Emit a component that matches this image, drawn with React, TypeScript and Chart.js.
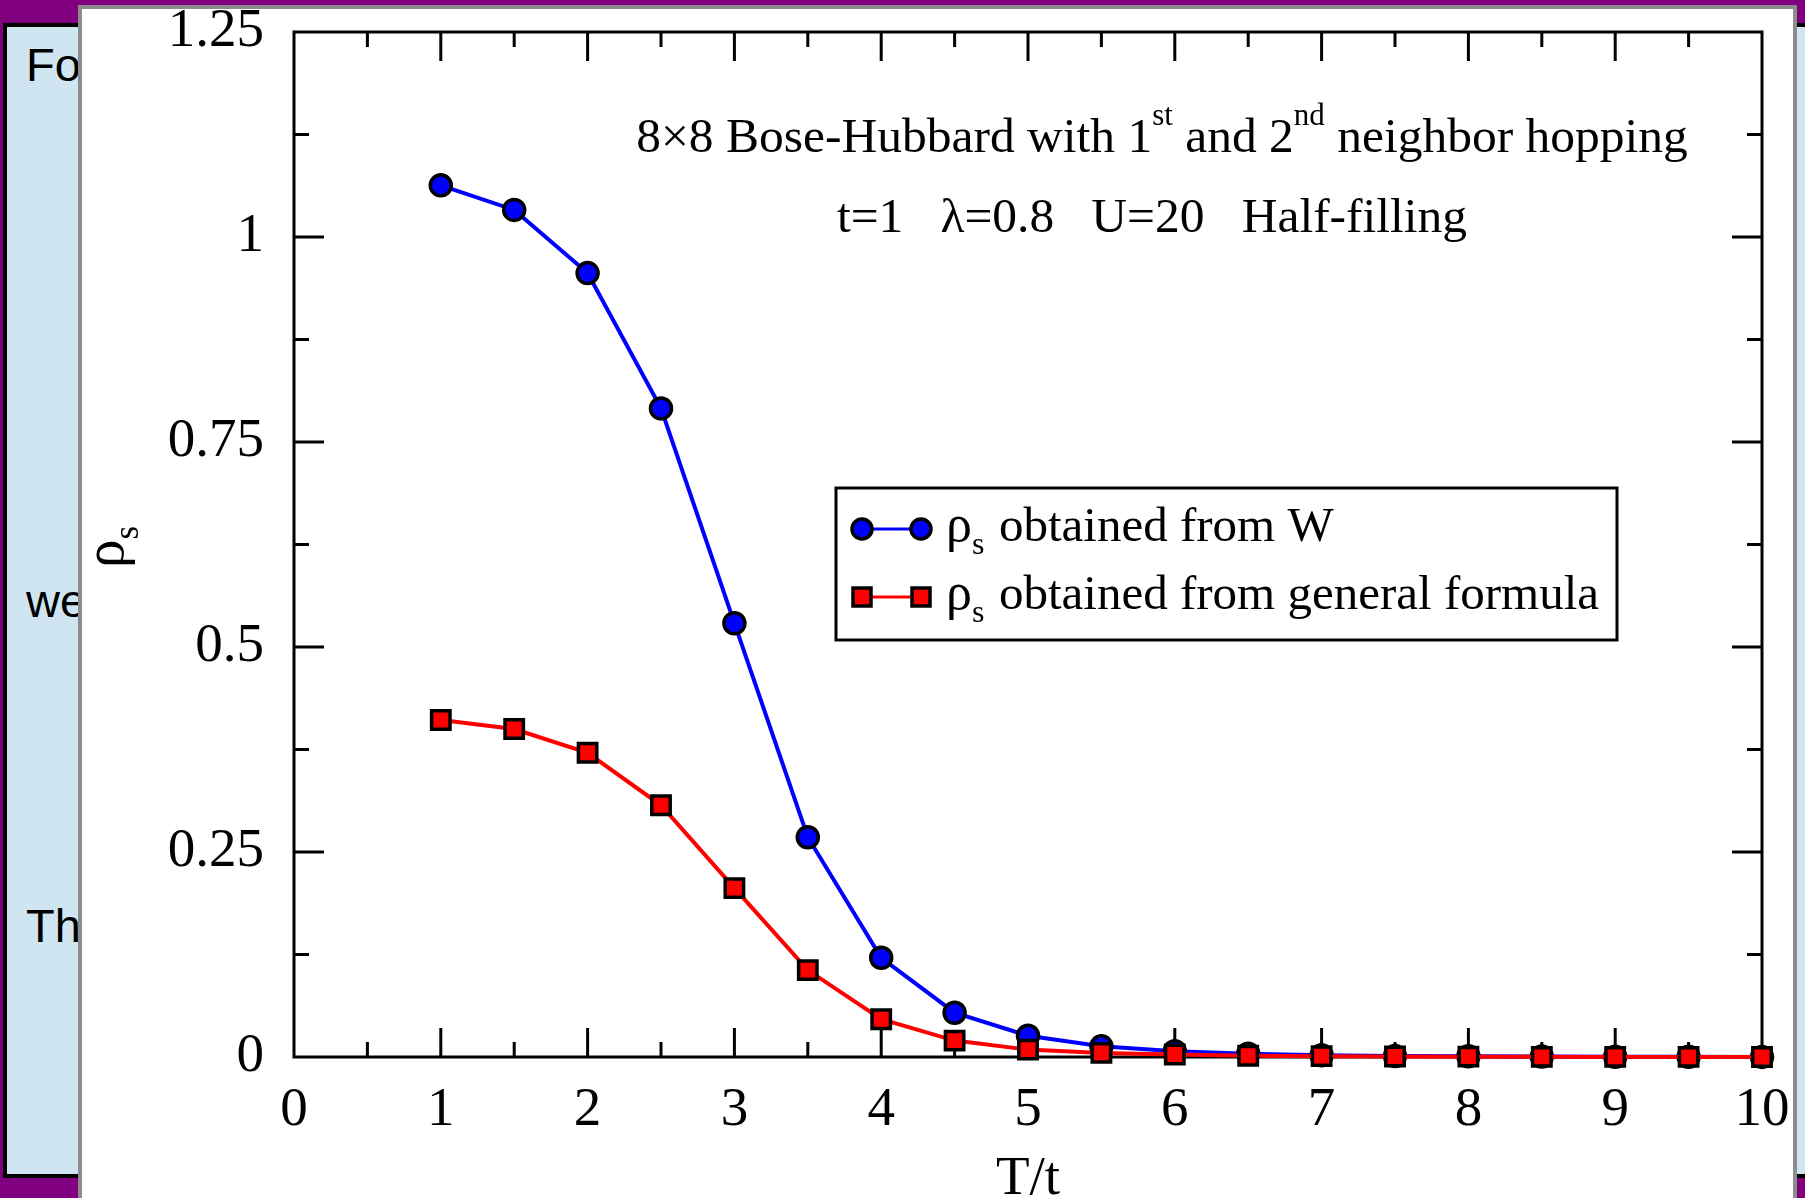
import React, { useEffect, useRef } from 'react';
import { Chart, registerables } from 'chart.js';

Chart.register(...registerables);

// ---------- data ----------
const temperatures = [1, 1.5, 2, 2.5, 3, 3.5, 4, 4.5, 5, 5.5, 6, 6.5, 7, 7.5, 8, 8.5, 9, 9.5, 10];
const rhoFromW = [1.063, 1.033, 0.956, 0.791, 0.529, 0.268, 0.121, 0.054, 0.026, 0.013, 0.007, 0.004, 0.002, 0.0012, 0.0008, 0.0005, 0.0003, 0.0002, 0.0001];
const rhoFromFormula = [0.411, 0.4, 0.371, 0.307, 0.206, 0.106, 0.046, 0.02, 0.009, 0.005, 0.003, 0.0015, 0.001, 0.0006, 0.0004, 0.0002, 0.0001, 0.0001, 0.0];
const xTickLabels = ['0', '1', '2', '3', '4', '5', '6', '7', '8', '9', '10'];
const yTickLabels = ['0', '0.25', '0.5', '0.75', '1', '1.25'];
const seriesNames = ['obtained from W', 'obtained from general formula'];
const seriesColors = ['#0000ff', '#ff0000'];
const rhoSymbol = 'ρ';
const rhoSub = 's';
const xAxisTitle = 'T/t';
const titleParts: [string, boolean][] = [
  ['8×8 Bose-Hubbard with 1', false],
  ['st', true],
  [' and 2', false],
  ['nd', true],
  [' neighbor hopping', false],
];
const subtitleParts = ['t=1', 'λ=0.8', 'U=20', 'Half-filling'];
const slideFragments = ['Fo', 'we', 'Th'];

const SERIF = "'Liberation Serif', 'Times New Roman', Times, serif";
const f = (px: number) => `${px}px ${SERIF}`;

const framePlugin = {
  id: 'frameTicks',
  beforeDatasetsDraw(chart: any) {
    const { ctx, chartArea: a, scales } = chart;
    const xs = scales.x;
    const ys = scales.y;
    ctx.save();
    ctx.strokeStyle = '#000';
    ctx.lineWidth = 3;
    ctx.lineCap = 'butt';
    const seg = (x1: number, y1: number, x2: number, y2: number) => {
      ctx.beginPath();
      ctx.moveTo(x1, y1);
      ctx.lineTo(x2, y2);
      ctx.stroke();
    };
    for (let i = 1; i < 20; i++) {
      const v = i * 0.5;
      const px = xs.getPixelForValue(v);
      const len = i % 2 === 0 ? 29 : 15;
      seg(px, a.bottom, px, a.bottom - len);
      seg(px, a.top, px, a.top + len);
    }
    for (let i = 1; i < 10; i++) {
      const v = i * 0.125;
      const py = ys.getPixelForValue(v);
      const len = i % 2 === 0 ? 30 : 15;
      seg(a.left, py, a.left + len, py);
      seg(a.right, py, a.right - len, py);
    }
    ctx.strokeRect(a.left, a.top, a.right - a.left, a.bottom - a.top);
    ctx.restore();
  },
};

const textPlugin = {
  id: 'texts',
  afterDatasetsDraw(chart: any) {
    const { ctx, chartArea: a } = chart;
    ctx.save();
    ctx.fillStyle = '#000';
    ctx.textBaseline = 'alphabetic';
    ctx.textAlign = 'left';

    // title line 1
    const mainSize = 49.5;
    const supSize = 31;
    let total = 0;
    for (const [t, sup] of titleParts) {
      ctx.font = f(sup ? supSize : mainSize);
      total += ctx.measureText(t).width;
    }
    let cx = 1162 - total / 2;
    for (const [t, sup] of titleParts) {
      ctx.font = f(sup ? supSize : mainSize);
      ctx.fillText(t, cx, sup ? 152 - 27 : 152);
      cx += ctx.measureText(t).width;
    }
    // title line 2
    ctx.font = f(mainSize);
    const gap = ctx.measureText(' ').width * 3;
    let tot2 = 0;
    subtitleParts.forEach((t, i) => {
      tot2 += ctx.measureText(t).width + (i < subtitleParts.length - 1 ? gap : 0);
    });
    cx = 1152 - tot2 / 2;
    for (const t of subtitleParts) {
      ctx.fillText(t, cx, 232);
      cx += ctx.measureText(t).width + gap;
    }

    // legend
    ctx.lineWidth = 3;
    ctx.strokeStyle = '#000';
    ctx.strokeRect(836, 488, 781, 152);
    const rows = [529, 597];
    rows.forEach((ry, i) => {
      ctx.strokeStyle = seriesColors[i];
      ctx.lineWidth = 3;
      ctx.beginPath();
      ctx.moveTo(862, ry);
      ctx.lineTo(921, ry);
      ctx.stroke();
      ctx.fillStyle = seriesColors[i];
      ctx.strokeStyle = '#000';
      ctx.lineWidth = 3.5;
      [862, 921].forEach((mx) => {
        ctx.beginPath();
        if (i === 0) ctx.arc(mx, ry, 10, 0, Math.PI * 2);
        else ctx.rect(mx - 9, ry - 9, 18, 18);
        ctx.fill();
        ctx.stroke();
      });
      ctx.fillStyle = '#000';
      const by = ry + 12;
      ctx.font = f(52);
      ctx.fillText(rhoSymbol, 946, by);
      const rw = ctx.measureText(rhoSymbol).width;
      ctx.font = f(32);
      ctx.fillText(rhoSub, 946 + rw, by + 13);
      ctx.font = f(49);
      ctx.fillText(seriesNames[i], 999, by);
    });

    // x-axis title
    ctx.font = f(55);
    ctx.textAlign = 'center';
    ctx.fillText(xAxisTitle, (a.left + a.right) / 2, 1194);

    // y-axis title (rotated)
    ctx.textAlign = 'left';
    ctx.translate(123, 568);
    ctx.rotate(-Math.PI / 2);
    ctx.font = f(57);
    ctx.fillText(rhoSymbol, 0, 0);
    const w = ctx.measureText(rhoSymbol).width;
    ctx.font = f(35);
    ctx.fillText(rhoSub, w, 15);
    ctx.restore();
  },
};

const zeroPadding = (s: any) => {
  s.paddingTop = 0;
  s.paddingBottom = 0;
  s.paddingLeft = 0;
  s.paddingRight = 0;
};

export default function App() {
  const ref = useRef<HTMLCanvasElement | null>(null);

  useEffect(() => {
    if (!ref.current) return;
    const chart = new Chart(ref.current, {
      type: 'line',
      data: {
        datasets: [
          {
            label: seriesNames[1],
            data: temperatures.map((t, i) => ({ x: t, y: rhoFromFormula[i] })),
            borderColor: seriesColors[1],
            borderWidth: 4,
            pointStyle: 'rect',
            pointRadius: 13,
            pointBackgroundColor: seriesColors[1],
            pointBorderColor: '#000',
            pointBorderWidth: 3.5,
            tension: 0,
            clip: false as any,
            order: 0,
          },
          {
            label: seriesNames[0],
            data: temperatures.map((t, i) => ({ x: t, y: rhoFromW[i] })),
            borderColor: seriesColors[0],
            borderWidth: 4,
            pointStyle: 'circle',
            pointRadius: 10.5,
            pointBackgroundColor: seriesColors[0],
            pointBorderColor: '#000',
            pointBorderWidth: 3.5,
            tension: 0,
            clip: false as any,
            order: 1,
          },
        ],
      },
      options: {
        animation: false,
        responsive: false,
        devicePixelRatio: 1,
        events: [],
        layout: { padding: { left: 0, top: 32, right: 43, bottom: 0 } },
        plugins: { legend: { display: false }, tooltip: { enabled: false } },
        scales: {
          x: {
            type: 'linear',
            min: 0,
            max: 10,
            grid: { display: false, drawTicks: false },
            border: { display: false },
            ticks: {
              stepSize: 1,
              autoSkip: false,
              maxRotation: 0,
              padding: 21,
              color: '#000',
              font: { family: SERIF, size: 55 },
              callback: (_v: any, i: number) => xTickLabels[i],
            },
            afterFit: (s: any) => {
              s.height = 141;
              zeroPadding(s);
            },
          },
          y: {
            type: 'linear',
            min: 0,
            max: 1.25,
            grid: { display: false, drawTicks: false },
            border: { display: false },
            ticks: {
              stepSize: 0.25,
              autoSkip: false,
              padding: 30,
              color: '#000',
              font: { family: SERIF, size: 55 },
              callback: (_v: any, i: number) => yTickLabels[i],
            },
            afterFit: (s: any) => {
              s.width = 294;
              zeroPadding(s);
            },
          },
        },
      } as any,
      plugins: [framePlugin, textPlugin],
    });
    return () => chart.destroy();
  }, []);

  const sans = "'Liberation Sans', Arial, Helvetica, sans-serif";
  const fragTops = [41, 577, 902];

  return (
    <div
      style={{
        position: 'fixed',
        left: 0,
        top: 0,
        width: 1805,
        height: 1198,
        overflow: 'hidden',
        background: '#800080',
      }}
    >
      <div
        style={{
          position: 'absolute',
          left: 3,
          top: 23,
          width: 1900,
          height: 1155,
          background: '#cfe5f2',
          border: '4px solid #000',
          boxSizing: 'border-box',
        }}
      />
      {slideFragments.map((t, i) => (
        <div
          key={t}
          style={{
            position: 'absolute',
            left: 26,
            top: fragTops[i],
            fontFamily: sans,
            fontSize: 47,
            lineHeight: '47px',
            color: '#000',
            whiteSpace: 'nowrap',
          }}
        >
          {t}
        </div>
      ))}
      <div
        style={{
          position: 'absolute',
          left: 78,
          top: 5,
          width: 1797 - 78,
          height: 1300,
          background: '#fff',
          border: '4px solid #8c8c8c',
          boxSizing: 'border-box',
        }}
      />
      <canvas
        ref={ref}
        width={1805}
        height={1198}
        style={{ position: 'absolute', left: 0, top: 0, width: 1805, height: 1198 }}
      />
    </div>
  );
}
